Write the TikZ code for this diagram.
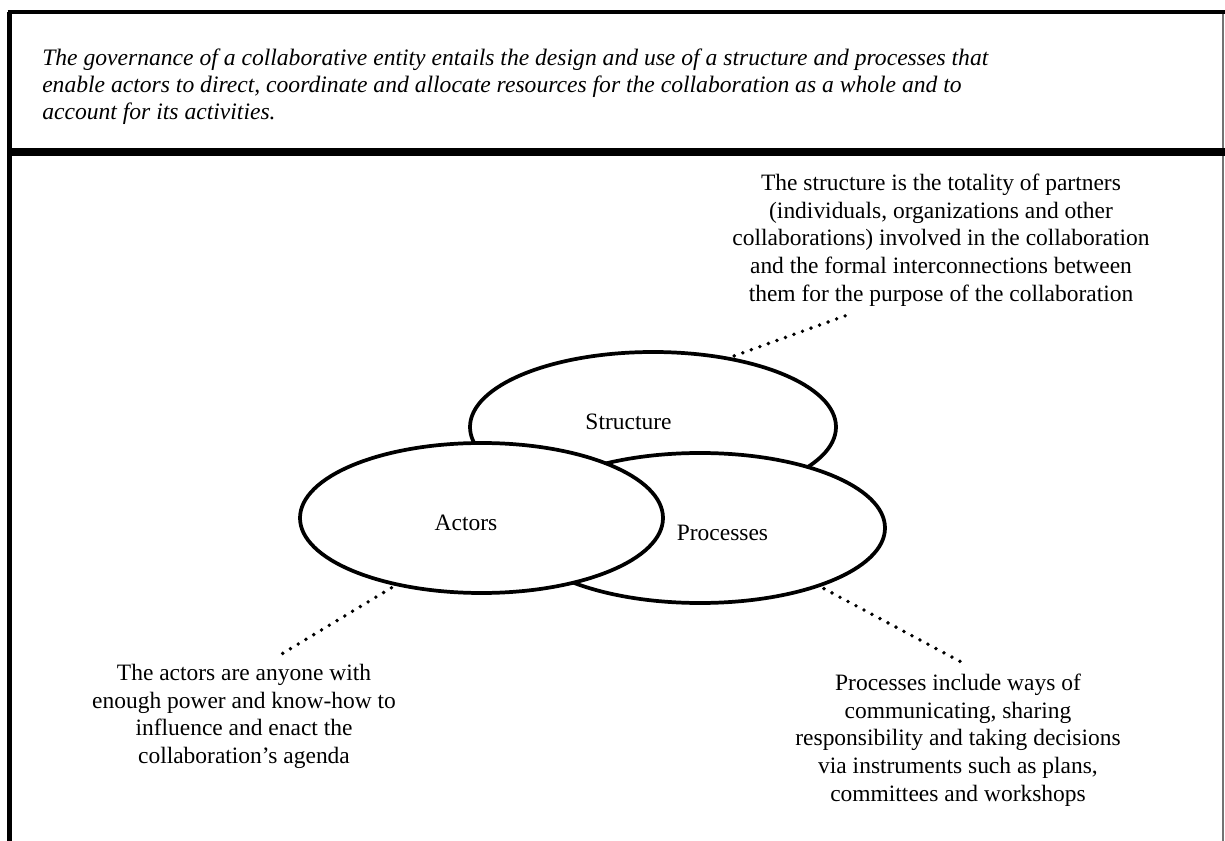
\documentclass[tikz,border=0pt]{standalone}
\usepackage{fontspec}
\setmainfont{Liberation Serif}
\usetikzlibrary{shapes.geometric}
\begin{document}
\begin{tikzpicture}[x=0.75pt,y=-0.75pt,
  bubble/.style={ellipse, draw=black, line width=2.8pt, fill=white, inner sep=0pt},
  note/.style={align=center, inner sep=0pt, anchor=north, font=\fontsize{17.6}{20.7}\selectfont},
  lbl/.style={inner sep=0pt, anchor=base, font=\fontsize{17.6}{20.7}\selectfont},
  leader/.style={line width=2.9pt, line cap=round, dash pattern=on 0pt off 6.8pt, shorten <=3pt},
  frameline/.style={draw=black}]
\useasboundingbox (0,0) rectangle (1225,841);
% frame
\draw[draw=black!55, line width=1.5pt] (1223,12) -- (1223,841);
\draw[frameline, line width=3.75pt] (9.5,841) -- (9.5,12);
\draw[frameline, line width=3pt] (7.5,12) -- (1225,12);
\draw[frameline, line width=6pt] (7.5,152) -- (1225,152);
% definition text
\node[anchor=north west, inner sep=0pt, align=left,
      font=\fontsize{17.7}{20.25}\selectfont\itshape] (def) at (42,49)
  {The governance of a collaborative entity entails the design and use of a structure and processes that\\
   enable actors to direct, coordinate and allocate resources for the collaboration as a whole and to\\
   account for its activities.};
% ellipses
\node[bubble, minimum width=274.5pt, minimum height=112.5pt] (struct) at (653,427) {};
\node[bubble, minimum width=277.5pt, minimum height=112.5pt] (proc) at (700,528) {};
\node[bubble, minimum width=272.25pt, minimum height=112.5pt] (actors) at (481.5,518) {};
% labels
\node[lbl] (structlbl) at (628.5,430) {Structure};
\node[lbl] (actorslbl) at (466,530) {Actors};
\node[lbl] (proclbl) at (722.5,540) {Processes};
% notes
\node[note] (structnote) at (941,174)
  {The structure is the totality of partners\\
   (individuals, organizations and other\\
   collaborations) involved in the collaboration\\
   and the formal interconnections between\\
   them for the purpose of the collaboration};
\node[note] (actorsnote) at (244,664)
  {The actors are anyone with\\
   enough power and know-how to\\
   influence and enact the\\
   collaboration’s agenda};
\node[note] (procnote) at (958,674)
  {Processes include ways of\\
   communicating, sharing\\
   responsibility and taking decisions\\
   via instruments such as plans,\\
   committees and workshops};
% leaders
\coordinate (sEnd) at (853,313);
\coordinate (aEnd) at (280,655);
\coordinate (pEnd) at (963,663);
\draw[leader] (struct.42) -- (sEnd);
\draw[leader] (actors.218) -- (aEnd);
\draw[leader] (proc.334) -- (pEnd);
\end{tikzpicture}
\end{document}
